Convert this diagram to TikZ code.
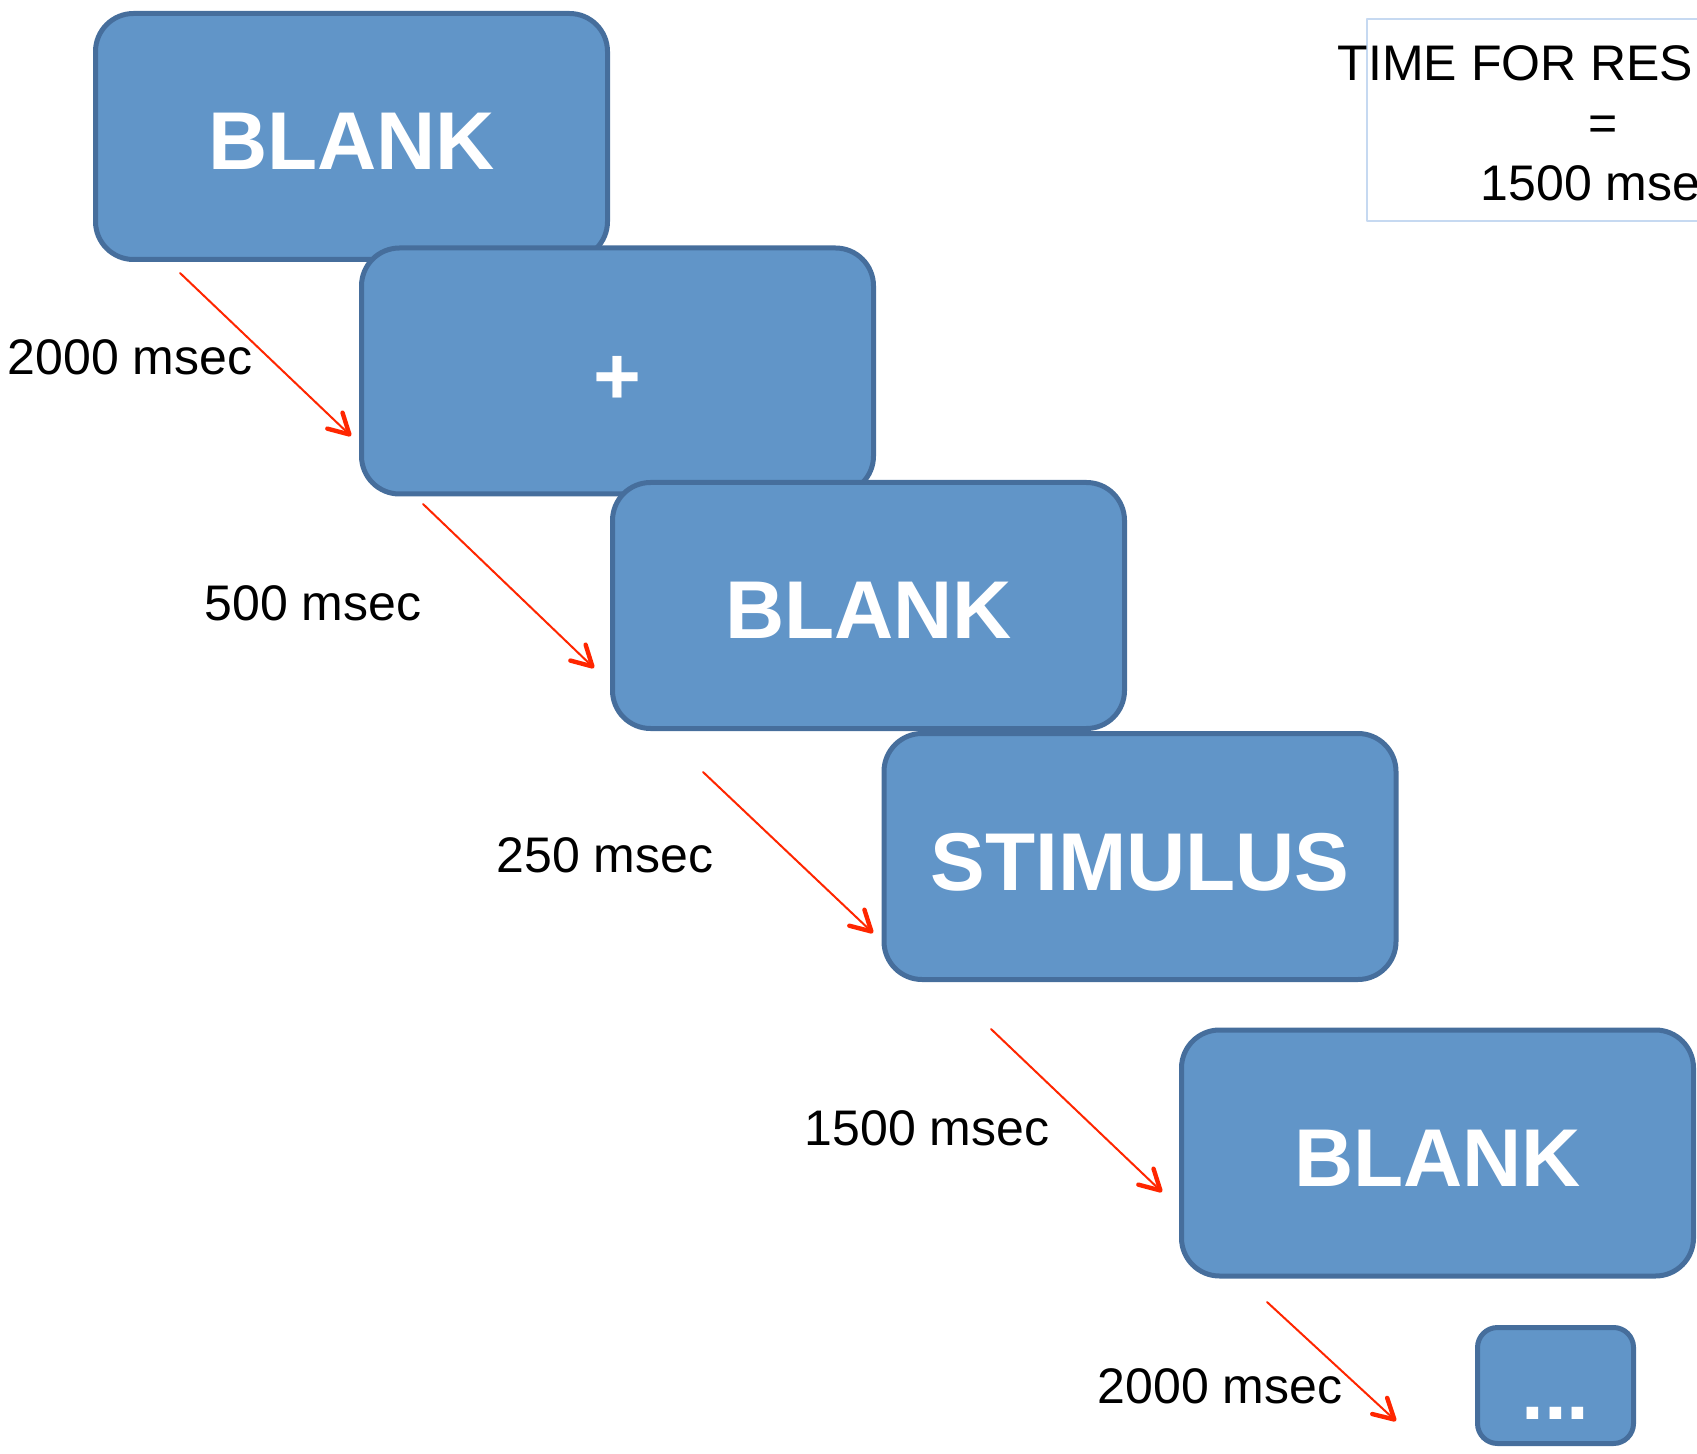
\documentclass[tikz,border=0pt]{standalone}
\usepackage{fontspec}
\setmainfont{Liberation Sans}
\usepackage{tikz}
\usetikzlibrary{arrows.meta}

\definecolor{slidefill}{RGB}{97,149,200}
\definecolor{slideedge}{RGB}{70,110,156}
\definecolor{delayred}{RGB}{255,38,0}
\definecolor{frameblue}{RGB}{198,217,241}

\begin{document}
\begin{tikzpicture}[x=0.5pt, y=-0.5pt, line cap=round, line join=round,
    >={Straight Barb[length=10pt, width=11pt, line width=2.2pt, round]},
    screen/.style={draw=slideedge, line width=2.5pt, fill=slidefill, rounded corners=19pt,
      minimum width=256pt, minimum height=123pt, inner sep=0pt,
      text height=33.5pt, text depth=0pt,
      text=white, font=\fontsize{41pt}{49pt}\selectfont\bfseries},
    delay/.style={->, draw=delayred, line width=1pt},
    lbl/.style={inner sep=0pt, font=\fontsize{25pt}{30pt}\selectfont}]

  \useasboundingbox (0,0) rectangle (1697,1454);

  %--------------------------
  % Screens of one trial
  %--------------------------
  \node[screen] (blank1) at (351.5,136.5) {BLANK};
  \node[screen] (fix) at (617.5,371) {+};
  \node[screen] (blank2) at (868.5,605.5) {BLANK};
  \node[screen] (stim) at (1140,856.5) {STIMULUS};
  \node[screen] (blank3) at (1437.5,1153) {BLANK};
  \node[screen, minimum width=78pt, minimum height=58pt, rounded corners=10pt]
    (more) at (1555.5,1385.5) {...};

  %--------------------------
  % Delays between screens
  %--------------------------
  \coordinate (d1a) at (180,273);   \coordinate (d1b) at (351,436);
  \coordinate (d2a) at (423,504);   \coordinate (d2b) at (594,668);
  \coordinate (d3a) at (703,772);   \coordinate (d3b) at (873,933);
  \coordinate (d4a) at (991,1029);  \coordinate (d4b) at (1162,1192);
  \coordinate (d5a) at (1267,1302); \coordinate (d5b) at (1396,1421);

  \draw[delay] (d1a) -- (d1b);
  \draw[delay] (d2a) -- (d2b);
  \draw[delay] (d3a) -- (d3b);
  \draw[delay] (d4a) -- (d4b);
  \draw[delay] (d5a) -- (d5b);

  \node[lbl] (t1) at (130,357) {2000 msec};
  \node[lbl] (t2) at (313,603) {500 msec};
  \node[lbl] (t3) at (605,855) {250 msec};
  \node[lbl] (t4) at (927,1128) {1500 msec};
  \node[lbl] (t5) at (1220,1386) {2000 msec};

  % Response window
  \draw[frameblue, line width=0.75pt] (1367,19) rectangle (1840,221);
  \node[lbl, align=center] (resp) at (1603,123) {TIME FOR RESPONSE\\=\\1500 msec};

\end{tikzpicture}
\end{document}
